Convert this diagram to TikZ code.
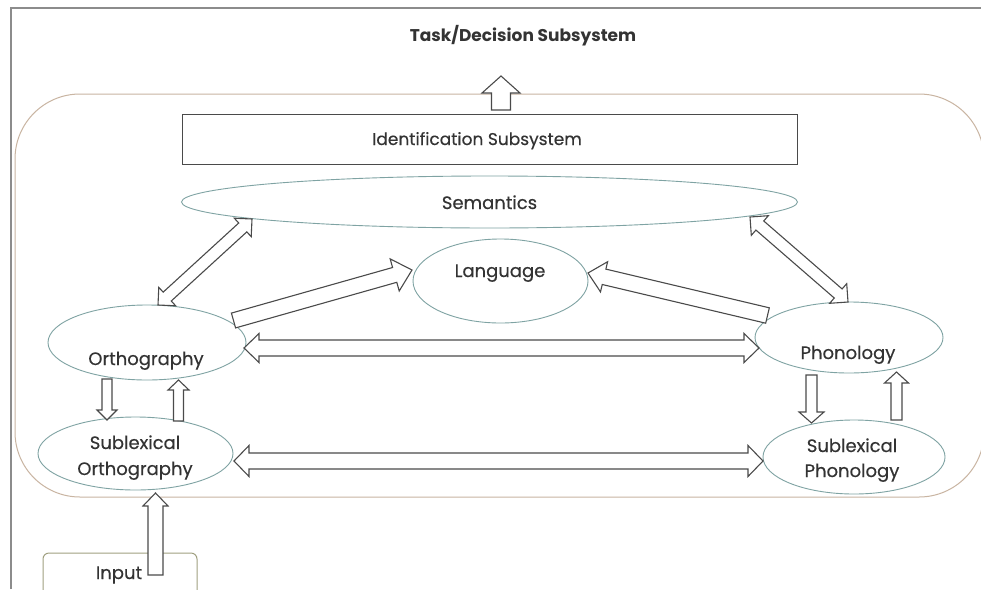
\documentclass[tikz,border=0pt]{standalone}
\usepackage{fontspec}
\setmainfont{Poppins}
\newfontfamily\lblfont{Poppins}[FakeBold=0.35]
\usetikzlibrary{calc,shapes.geometric}
\definecolor{ellc}{HTML}{7FA3A3}
\definecolor{boxc}{HTML}{C9B5A2}
\definecolor{arrc}{HTML}{4A4A4A}
\definecolor{txtc}{HTML}{333333}
\definecolor{framec}{HTML}{8C8C8C}
\definecolor{inpc}{HTML}{A0A080}
\tikzset{
  blk/.style={draw=arrc, fill=white, line width=1.1pt, line join=miter},
  ell/.style={draw=ellc, line width=0.9pt, shape=ellipse, inner sep=0pt, fill=white},
  lbl/.style={text=txtc, anchor=base, inner sep=0pt, font=\lblfont\fontsize{18}{22}\selectfont},
}
% single block arrow: tail, tip, shaft half width, head half width, head length
\newcommand\blkarrow[5]{%
  \coordinate (bkH) at ($(#2)!#5!(#1)$);
  \draw[blk] ($(#1)!#3!90:(#2)$) -- ($(bkH)!#3!90:(#2)$) -- ($(bkH)!#4!90:(#2)$) -- (#2)
    -- ($(bkH)!#4!-90:(#2)$) -- ($(bkH)!#3!-90:(#2)$) -- ($(#1)!#3!-90:(#2)$) -- cycle;
}
% double block arrow: tip A, tip B, shaft half width, head half width, head length
\newcommand\dblarrow[5]{%
  \coordinate (bkA) at ($(#1)!#5!(#2)$);
  \coordinate (bkB) at ($(#2)!#5!(#1)$);
  \draw[blk] (#1) -- ($(bkA)!#4!90:(#2)$) -- ($(bkA)!#3!90:(#2)$) -- ($(bkB)!#3!-90:(#1)$)
    -- ($(bkB)!#4!-90:(#1)$) -- (#2) -- ($(bkB)!#4!90:(#1)$) -- ($(bkB)!#3!90:(#1)$)
    -- ($(bkA)!#3!-90:(#2)$) -- ($(bkA)!#4!-90:(#2)$) -- cycle;
}
\begin{document}
\begin{tikzpicture}[x=1pt,y=-1pt]
\useasboundingbox (0,0) rectangle (981,589);
\fill[white] (0,0) rectangle (981,589);
% outer frame
\draw[framec, line width=2pt] (11,589) -- (11,8) -- (981,8);
% title
\node[text=txtc, anchor=base, inner sep=0pt, font=\fontsize{17}{20}\selectfont\bfseries] (task) at (523,41) {Task/Decision Subsystem};
% rounded system box
\node[draw=boxc, line width=1pt, rounded corners=65pt, minimum width=969pt, minimum height=403pt, inner sep=0pt] (sys) at (499.5,295.5) {};
% identification subsystem
\node[draw=arrc, line width=1pt, minimum width=615pt, minimum height=50pt, inner sep=0pt] (ident) at (489.5,139) {};
\node[lbl, font=\lblfont\fontsize{17}{20}\selectfont] (identt) at (477,145) {Identification Subsystem};
% ellipses
\node[ell, minimum width=616pt, minimum height=52pt] (sem) at (489.5,202) {};
\node[lbl] (semt) at (489.5,209) {Semantics};
\node[ell, minimum width=175pt, minimum height=84pt] (lang) at (500.5,281) {};
\node[lbl] (langt) at (500,277) {Language};
\node[ell, minimum width=198pt, minimum height=75pt] (orth) at (147,342.5) {};
\node[lbl] (ortht) at (146,365) {Orthography};
\node[ell, minimum width=188pt, minimum height=71pt] (phon) at (849,337.5) {};
\node[lbl] (phont) at (848,359) {Phonology};
\node[ell, minimum width=195pt, minimum height=73pt] (sorth) at (135.5,453.5) {};
\node[lbl] (sortht1) at (135,449) {Sublexical};
\node[lbl] (sortht2) at (135,475) {Orthography};
\node[ell, minimum width=182pt, minimum height=74pt] (sphon) at (854,457) {};
\node[lbl] (sphont1) at (852,452) {Sublexical};
\node[lbl] (sphont2) at (852,477) {Phonology};
% input
\node[draw=inpc, line width=1pt, rounded corners=6pt, minimum width=154pt, minimum height=50pt, inner sep=0pt] (input) at (120,578) {};
\node[lbl] (inputt) at (119,579) {Input};
% arrow end points
\coordinate (idTop) at (501,110);
\coordinate (taskIn) at (501,76);
\coordinate (o2soA) at (107,379);
\coordinate (o2soB) at (107,420);
\coordinate (so2oA) at (178.5,421);
\coordinate (so2oB) at (178.5,380);
\coordinate (p2spA) at (811.5,375);
\coordinate (p2spB) at (811.5,423);
\coordinate (sp2pA) at (896.5,420);
\coordinate (sp2pB) at (896.5,372);
\coordinate (inA) at (155.5,575);
\coordinate (inB) at (155.5,493);
\coordinate (o2lA) at (233.5,320.5);
\coordinate (o2lB) at (412,270);
\coordinate (p2lA) at (767.5,315.5);
\coordinate (p2lB) at (588,273);
\coordinate (opA) at (244,348);
\coordinate (opB) at (759,348);
\coordinate (sspA) at (234,461);
\coordinate (sspB) at (763,461);
\coordinate (soA) at (158,305);
\coordinate (soB) at (252,219);
\coordinate (spA) at (750,217);
\coordinate (spB) at (848,302);
% arrows
\blkarrow{idTop}{taskIn}{9.5pt}{19pt}{17pt}
\blkarrow{o2soA}{o2soB}{5pt}{10pt}{10pt}
\blkarrow{so2oA}{so2oB}{5pt}{10.5pt}{10pt}
\blkarrow{p2spA}{p2spB}{5.5pt}{12.5pt}{11pt}
\blkarrow{sp2pA}{sp2pB}{5.5pt}{12pt}{11pt}
\blkarrow{inA}{inB}{7.5pt}{12.5pt}{13pt}
\blkarrow{o2lA}{o2lB}{7.7pt}{16.7pt}{18pt}
\blkarrow{p2lA}{p2lB}{7.9pt}{15.5pt}{16.5pt}
\dblarrow{opA}{opB}{8pt}{14.5pt}{15pt}
\dblarrow{sspA}{sspB}{8pt}{15.5pt}{15pt}
\dblarrow{soA}{soB}{6pt}{12.5pt}{12.5pt}
\dblarrow{spA}{spB}{6pt}{13pt}{13pt}
\end{tikzpicture}
\end{document}
